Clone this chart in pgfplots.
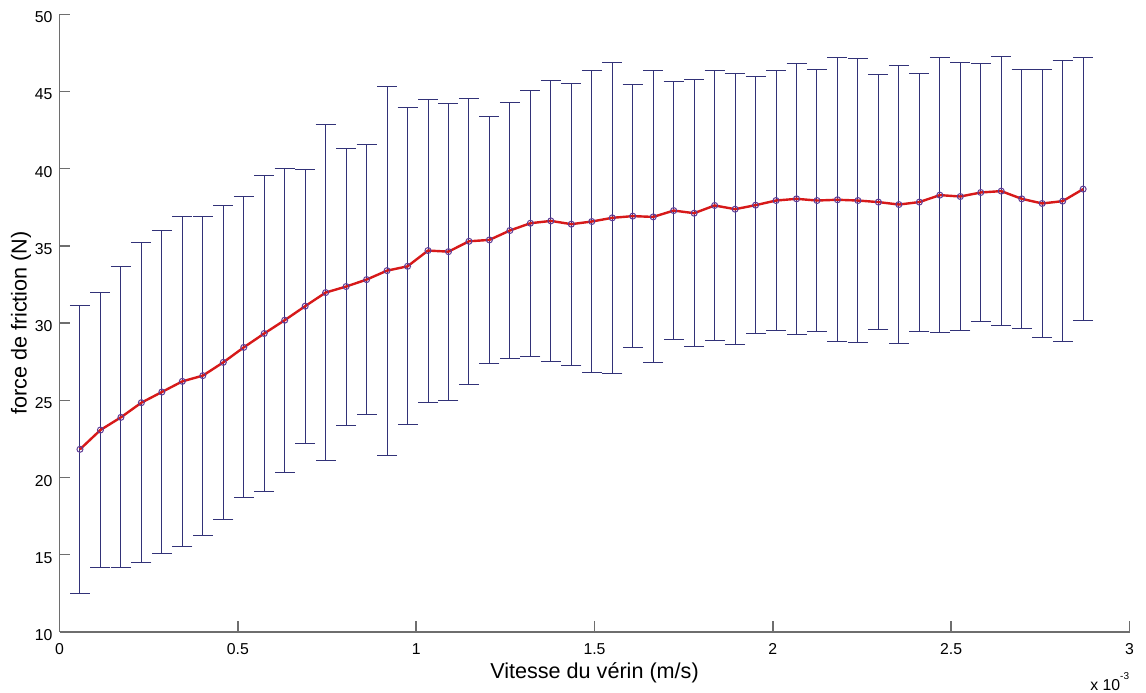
\documentclass[border=0pt]{standalone}
\usepackage{pgfplots}
\pgfplotsset{compat=1.18}
\usepackage{pgfplotstable}
\usepackage{fontspec}
\setmainfont{Liberation Sans}
\definecolor{errc}{RGB}{50,50,120}
\definecolor{axgray}{RGB}{110,110,110}
\definecolor{redl}{RGB}{215,25,25}
\definecolor{mkc}{RGB}{95,60,150}
\pgfplotstableread{
x y e
0.0574 21.83 9.31
0.1148 23.08 8.89
0.1722 23.90 9.75
0.2296 24.85 10.37
0.2870 25.54 10.48
0.3444 26.23 10.67
0.4018 26.60 10.32
0.4592 27.46 10.16
0.5166 28.43 9.74
0.5740 29.33 10.22
0.6314 30.19 9.85
0.6888 31.10 8.87
0.7462 31.98 10.87
0.8036 32.37 8.97
0.8610 32.82 8.72
0.9184 33.40 11.95
0.9758 33.68 10.27
1.0332 34.70 9.81
1.0906 34.63 9.61
1.1480 35.30 9.25
1.2054 35.39 7.99
1.2628 36.00 8.29
1.3202 36.47 8.62
1.3776 36.62 9.09
1.4350 36.41 9.14
1.4924 36.58 9.77
1.5498 36.82 10.07
1.6072 36.93 8.50
1.6646 36.88 9.45
1.7220 37.29 8.36
1.7794 37.12 8.64
1.8368 37.62 8.74
1.8942 37.38 8.77
1.9516 37.64 8.31
2.0090 37.94 8.40
2.0664 38.05 8.78
2.1238 37.94 8.51
2.1812 37.99 9.20
2.2386 37.94 9.22
2.2960 37.84 8.27
2.3534 37.68 8.98
2.4108 37.84 8.35
2.4682 38.29 8.91
2.5256 38.20 8.65
2.5830 38.46 8.36
2.6404 38.55 8.73
2.6978 38.05 8.40
2.7552 37.75 8.69
2.8126 37.90 9.09
2.8700 38.68 8.51
}\data
\begin{document}
\begin{tikzpicture}
\begin{axis}[
  scale only axis,
  width=535pt, height=308.85pt,
  xmin=0, xmax=3, ymin=10, ymax=50,
  xtick={0,0.5,...,3}, ytick={10,15,...,50},
  xticklabels={0,0.5,1,1.5,2,2.5,3},
  scaled ticks=false,
  axis x line*=bottom, axis y line*=left,
  axis line style={draw=axgray, line width=0.7pt, -},
  tick align=inside,
  major tick length=5.4pt,
  tick style={draw=axgray, line width=0.7pt},
  /pgf/number format/assume math mode=true,
  ticklabel style={font=\fontsize{7.9}{9}\selectfont, text=black},
  xticklabel style={anchor=base, yshift=-11.5pt},
  yticklabel style={yshift=-1.5pt},
  label style={font=\fontsize{10.8}{13}\selectfont},
  xlabel={Vitesse du vérin (m/s)},
  xlabel style={at={(axis description cs:0.5,0)}, anchor=base, yshift=-23.5pt},
  ylabel={force de friction (N)},
  ylabel style={at={(axis description cs:-0.03065,0.5)}, anchor=base},
  clip=false,
]
\addplot[errc, line width=0.5pt, no markers,
  error bars/.cd, y dir=both, y explicit,
  error bar style={errc, line width=0.5pt},
  error mark options={rotate=90, errc, mark size=5pt, line width=0.5pt}]
  table[x=x, y=y, y error=e] {\data};
\addplot[redl, line width=1.2pt, no markers] table[x=x, y=y] {\data};
\addplot[only marks, mark=o, mark size=1.5pt, mark options={draw=mkc, line width=0.5pt}] table[x=x, y=y] {\data};
\node[anchor=base east, font=\fontsize{7.9}{9}\selectfont, inner sep=0pt] at ([yshift=-29.5pt]rel axis cs:1,0) {x 10\raisebox{5.8pt}{\fontsize{5}{6}\selectfont -3}};
\end{axis}
\pgfresetboundingbox
\path[use as bounding box] ([shift={(-29.75pt,-30.5pt)}]current axis.south west) rectangle ([shift={(8.25pt,7.15pt)}]current axis.north east);
\end{tikzpicture}
\end{document}
